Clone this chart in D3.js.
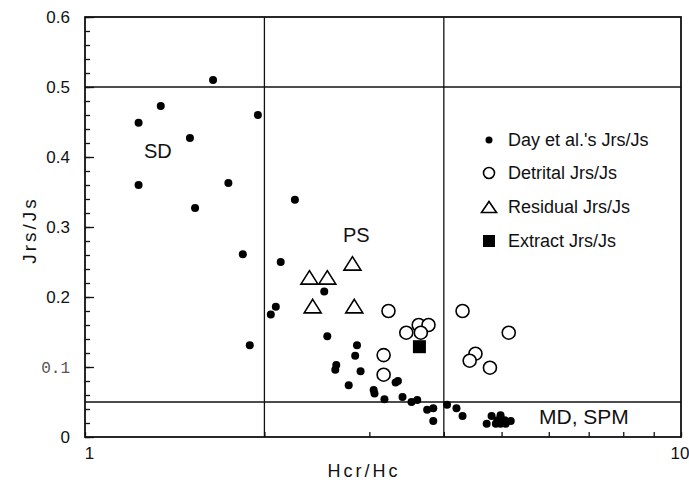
<!DOCTYPE html>
<html>
<head>
<meta charset="utf-8">
<script src="https://cdn.jsdelivr.net/npm/d3@7"></script>
<style>
  body { margin: 0; background: #fff; }
  svg { display: block; font-family: "Liberation Sans", Arial, Helvetica, sans-serif; }
</style>
</head>
<body>
<svg id="chart" width="689" height="482"></svg>
<script>
// Day et al. points
const dayHcr = [1.23, 1.34, 1.64, 1.50, 1.95, 1.23, 1.74, 1.53, 2.25, 1.84, 2.13, 2.52, 2.09, 2.05, 1.89,
  2.55, 2.86, 2.84, 2.64, 2.63, 2.90, 2.77, 3.35, 3.32, 3.05, 3.06, 3.18, 3.41, 3.53, 3.61, 3.75, 3.84,
  3.84, 4.05, 4.20, 4.30, 4.72, 4.81, 4.98, 4.89, 4.98, 5.08, 5.18, 4.92, 5.06];
const dayJrs = [0.449, 0.473, 0.510, 0.427, 0.460, 0.360, 0.363, 0.327, 0.339, 0.261, 0.250, 0.208, 0.186, 0.175, 0.131,
  0.144, 0.131, 0.116, 0.103, 0.096, 0.094, 0.074, 0.080, 0.078, 0.067, 0.062, 0.054, 0.057, 0.050, 0.053, 0.039, 0.041,
  0.023, 0.046, 0.041, 0.030, 0.019, 0.030, 0.031, 0.019, 0.019, 0.019, 0.023, 0.024, 0.024];

const detritalHcr = [3.23, 3.17, 3.17, 3.46, 3.63, 3.77, 3.66, 4.30, 4.52, 4.42, 4.78, 5.14];
const detritalJrs = [0.180, 0.117, 0.089, 0.149, 0.160, 0.160, 0.149, 0.180, 0.119, 0.109, 0.099, 0.149];

const residualHcr = [2.38, 2.55, 2.81, 2.41, 2.83];
const residualJrs = [0.228, 0.228, 0.248, 0.187, 0.187];

const extractHcr = [3.64];
const extractJrs = [0.129];

const yTickLabels = ['0', '0.1', '0.2', '0.3', '0.4', '0.5', '0.6'];
const xTickLabels = ['1', '10'];
const boundaryHcr = [2, 4];
const boundaryJrs = [0.5, 0.05];
const legendLabels = ["Day et al.'s Jrs/Js", 'Detrital Jrs/Js', 'Residual Jrs/Js', 'Extract Jrs/Js'];

const svg = d3.select('#chart');
const x = d3.scaleLog().domain([1, 10]).range([85, 681]);
const y = d3.scaleLinear().domain([0, 0.6]).range([437, 17]);

const zip = (a, b) => a.map((v, i) => [v, b[i]]);
const triPath = (w, h) => `M0,${-h / 2}L${w / 2},${h / 2}L${-w / 2},${h / 2}Z`;

// boundary lines
svg.append('g').selectAll('line').data(boundaryHcr).join('line')
  .attr('x1', (d) => x(d)).attr('x2', (d) => x(d))
  .attr('y1', y(0)).attr('y2', y(0.6))
  .attr('stroke', '#111').attr('stroke-width', 1.3);
svg.append('g').selectAll('line').data(boundaryJrs).join('line')
  .attr('x1', x(1)).attr('x2', x(10))
  .attr('y1', (d) => y(d)).attr('y2', (d) => y(d))
  .attr('stroke', '#111').attr('stroke-width', 1.5);

// y axis: minor + major ticks (inside)
const yMinor = svg.append('g').attr('transform', `translate(${x(1)},0)`)
  .call(d3.axisLeft(y).tickValues(d3.range(0, 0.601, 0.02)).tickSize(-5).tickSizeOuter(0).tickFormat(''));
const yMajor = svg.append('g').attr('transform', `translate(${x(1)},0)`)
  .call(d3.axisLeft(y).tickValues(d3.range(0, 0.601, 0.1)).tickSize(-9).tickSizeOuter(0).tickPadding(15)
    .tickFormat((d, i) => yTickLabels[i]));
[yMinor, yMajor].forEach((g) => {
  g.select('.domain').remove();
  g.selectAll('line').attr('stroke', '#111').attr('stroke-width', 1.3);
});
yMajor.selectAll('text').attr('font-size', 17).attr('fill', '#111')
  .attr('font-family', '"Liberation Sans", Arial, sans-serif');
yMajor.selectAll('text').filter((d, i) => yTickLabels[i] === '0.1')
  .attr('font-family', '"Liberation Mono", "DejaVu Sans Mono", monospace')
  .attr('font-size', 16).attr('fill', '#555');

// x axis
const xAx = svg.append('g').attr('transform', `translate(0,${y(0)})`)
  .call(d3.axisBottom(x).tickValues([1, 2, 3, 4, 5, 6, 7, 8, 9, 10]).tickSize(-5).tickSizeOuter(0).tickPadding(10)
    .tickFormat((d) => (d === 1 ? xTickLabels[0] : d === 10 ? xTickLabels[1] : '')));
xAx.select('.domain').remove();
xAx.selectAll('line').attr('stroke', '#111').attr('stroke-width', 1.3);
xAx.selectAll('text').attr('font-size', 17).attr('fill', '#111')
  .attr('font-family', '"Liberation Sans", Arial, sans-serif');
xAx.selectAll('text').filter((d) => d === 1).attr('dx', 4);
xAx.selectAll('text').filter((d) => d === 10).attr('text-anchor', 'end').attr('dx', 8);

// frame
svg.append('rect')
  .attr('x', x(1)).attr('y', y(0.6))
  .attr('width', x(10) - x(1)).attr('height', y(0) - y(0.6))
  .attr('fill', 'none').attr('stroke', '#111').attr('stroke-width', 1.8);

// axis titles
svg.append('text').attr('x', 364).attr('y', 477).attr('text-anchor', 'middle')
  .attr('font-size', 18).attr('letter-spacing', 3).attr('fill', '#111').text('Hcr/Hc');
svg.append('text').attr('transform', 'translate(36,230) rotate(-90)').attr('text-anchor', 'middle')
  .attr('font-size', 19).attr('letter-spacing', 3).attr('fill', '#111').text('Jrs/Js');

// region labels
svg.append('text').attr('x', 144).attr('y', 158).attr('font-size', 20).attr('fill', '#111').text('SD');
svg.append('text').attr('x', 343).attr('y', 242).attr('font-size', 20).attr('fill', '#111').text('PS');
svg.append('text').attr('x', 539).attr('y', 424).attr('font-size', 21).attr('fill', '#111').text('MD, SPM');

// data marks
svg.append('g').selectAll('circle').data(zip(dayHcr, dayJrs)).join('circle')
  .attr('cx', (d) => x(d[0])).attr('cy', (d) => y(d[1])).attr('r', 4).attr('fill', '#000');

svg.append('g').selectAll('circle').data(zip(detritalHcr, detritalJrs)).join('circle')
  .attr('cx', (d) => x(d[0])).attr('cy', (d) => y(d[1])).attr('r', 6.5)
  .attr('fill', '#fff').attr('stroke', '#000').attr('stroke-width', 1.6);

svg.append('g').selectAll('path').data(zip(residualHcr, residualJrs)).join('path')
  .attr('d', triPath(17, 13.5))
  .attr('transform', (d) => `translate(${x(d[0])},${y(d[1])})`)
  .attr('fill', '#fff').attr('stroke', '#000').attr('stroke-width', 1.6).attr('stroke-linejoin', 'miter');

svg.append('g').selectAll('rect').data(zip(extractHcr, extractJrs)).join('rect')
  .attr('x', (d) => x(d[0]) - 6.5).attr('y', (d) => y(d[1]) - 6.5)
  .attr('width', 13).attr('height', 13).attr('fill', '#000');

// legend
const legend = svg.append('g');
const legendY = [140, 173, 207, 241];
legend.selectAll('text').data(legendLabels).join('text')
  .attr('x', 508).attr('y', (d, i) => legendY[i]).attr('dy', '0.35em')
  .attr('font-size', 18).attr('fill', '#111').text((d) => d);
legend.append('circle').attr('cx', 489).attr('cy', legendY[0]).attr('r', 3.5).attr('fill', '#000');
legend.append('circle').attr('cx', 489).attr('cy', legendY[1]).attr('r', 5.5)
  .attr('fill', '#fff').attr('stroke', '#000').attr('stroke-width', 1.6);
legend.append('path').attr('d', triPath(15, 11)).attr('transform', `translate(489,${legendY[2]})`)
  .attr('fill', '#fff').attr('stroke', '#000').attr('stroke-width', 1.6);
legend.append('rect').attr('x', 483).attr('y', legendY[3] - 6).attr('width', 12).attr('height', 12).attr('fill', '#000');
</script>
</body>
</html>
